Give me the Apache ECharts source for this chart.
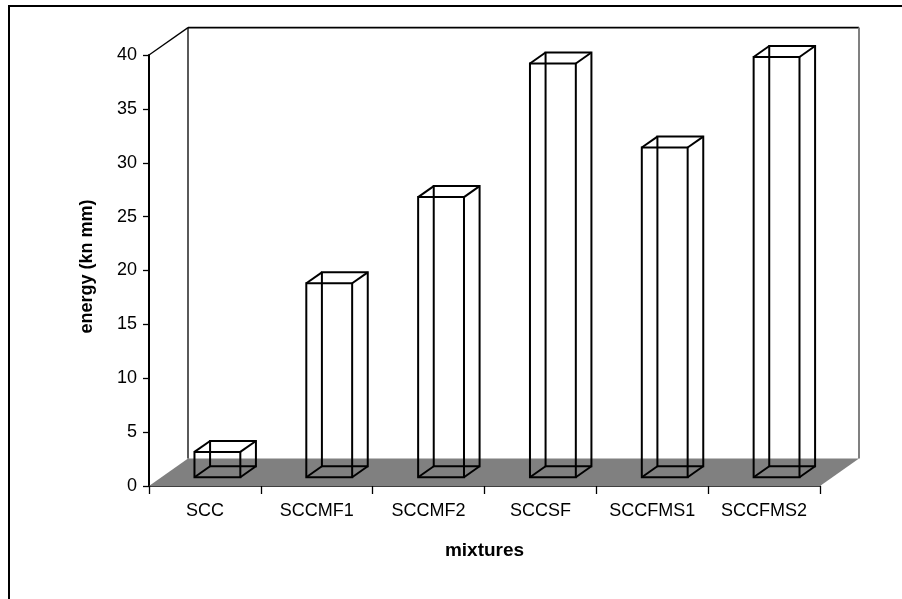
<!DOCTYPE html>
<html>
<head>
<meta charset="utf-8">
<script src="https://cdn.jsdelivr.net/npm/echarts@6/dist/echarts.min.js"></script>
<style>
html,body{margin:0;padding:0;background:#fff;}
#chart{width:902px;height:599px;}
</style>
</head>
<body>
<div id="chart"></div>
<script>
const categories = ['SCC', 'SCCMF1', 'SCCMF2', 'SCCSF', 'SCCFMS1', 'SCCFMS2'];
const energy = [2.35, 18, 26, 38.4, 30.6, 39];
const yTicks = { min: 0, max: 40, interval: 5 };
const xName = 'mixtures';
const yName = 'energy (kn mm)';

// oblique depth projection (layout constants)
const DX = 39, DY = -27.4;
const F1 = 0.32, F2 = 0.72, BAR_FRAC = 0.41;
const FONT = 'Liberation Sans';

const chart = echarts.init(document.getElementById('chart'));

function backdrop(params, api) {
  const cs = params.coordSys;
  const x = cs.x, y = cs.y, w = cs.width, h = cs.height;
  return {
    type: 'group',
    children: [
      { type: 'polygon', shape: { points: [[x, y + h], [x + DX, y + h + DY], [x + w + DX, y + h + DY], [x + w, y + h]] },
        style: { fill: '#808080', stroke: null } },
      { type: 'line', shape: { x1: x + DX, y1: y + DY, x2: x + w + DX, y2: y + DY }, style: { stroke: '#000', lineWidth: 1.6 } },
      { type: 'line', shape: { x1: x + w + DX, y1: y + DY, x2: x + w + DX, y2: y + h + DY }, style: { stroke: '#808080', lineWidth: 2 } },
      { type: 'line', shape: { x1: x + DX, y1: y + DY, x2: x + DX, y2: y + h + DY }, style: { stroke: '#000', lineWidth: 1.3 } },
      { type: 'line', shape: { x1: x, y1: y, x2: x + DX, y2: y + DY }, style: { stroke: '#000', lineWidth: 1.3 } }
    ]
  };
}

function box(params, api) {
  const i = api.value(0), v = api.value(1);
  const base = api.coord([i, 0]);
  const top = api.coord([i, v]);
  const bw = api.size([1, 0])[0] * BAR_FRAC;
  const x0 = base[0] - bw / 2 + DX * F1, x1 = x0 + bw;
  const yb = base[1] + DY * F1, yt = top[1] + DY * F1;
  const ox = DX * (F2 - F1), oy = DY * (F2 - F1);
  const st = { stroke: '#000', lineWidth: 2, fill: null };
  return {
    type: 'group',
    children: [
      { type: 'polygon', shape: { points: [[x0 + ox, yb + oy], [x1 + ox, yb + oy], [x1 + ox, yt + oy], [x0 + ox, yt + oy]] }, style: st },
      { type: 'line', shape: { x1: x0, y1: yb, x2: x0 + ox, y2: yb + oy }, style: st },
      { type: 'line', shape: { x1: x1, y1: yb, x2: x1 + ox, y2: yb + oy }, style: st },
      { type: 'line', shape: { x1: x0, y1: yt, x2: x0 + ox, y2: yt + oy }, style: st },
      { type: 'line', shape: { x1: x1, y1: yt, x2: x1 + ox, y2: yt + oy }, style: st },
      { type: 'polygon', shape: { points: [[x0, yb], [x1, yb], [x1, yt], [x0, yt]] }, style: st }
    ]
  };
}

chart.setOption({
  animation: false,
  backgroundColor: '#fff',
  textStyle: { fontFamily: FONT },
  graphic: [
    { type: 'rect', shape: { x: 9, y: 6, width: 1000, height: 1000 }, style: { fill: null, stroke: '#000', lineWidth: 2 }, z: 100 }
  ],
  grid: { left: 149, top: 55, width: 671, height: 431, containLabel: false },
  xAxis: {
    type: 'category',
    data: categories,
    boundaryGap: true,
    name: xName,
    nameLocation: 'middle',
    nameGap: 55,
    nameTextStyle: { fontFamily: FONT, fontSize: 19, fontWeight: 'bold', color: '#000' },
    axisLine: { show: true, lineStyle: { color: '#000', width: 1.5 } },
    axisTick: { show: true, length: 8, interval: 0, alignWithLabel: false, lineStyle: { color: '#000', width: 1.3 } },
    axisLabel: { fontFamily: FONT, fontSize: 18, color: '#000', margin: 16, interval: 0 },
    splitLine: { show: false }
  },
  yAxis: {
    type: 'value',
    min: yTicks.min, max: yTicks.max, interval: yTicks.interval,
    name: yName,
    nameLocation: 'middle',
    nameGap: 53,
    nameTextStyle: { fontFamily: FONT, fontSize: 18, fontWeight: 'bold', color: '#000', padding: [0, 0, 0, 8] },
    axisLine: { show: true, lineStyle: { color: '#000', width: 2 } },
    axisTick: { show: true, length: 6, lineStyle: { color: '#000', width: 1.3 } },
    axisLabel: { fontFamily: FONT, fontSize: 18, color: '#000', margin: 12 },
    splitLine: { show: false }
  },
  series: [
    { type: 'custom', renderItem: backdrop, data: [[0, 0]], z: 1, silent: true },
    { type: 'custom', renderItem: box, data: categories.map((c, i) => [i, energy[i]]), z: 3, silent: true }
  ]
});
</script>
</body>
</html>
